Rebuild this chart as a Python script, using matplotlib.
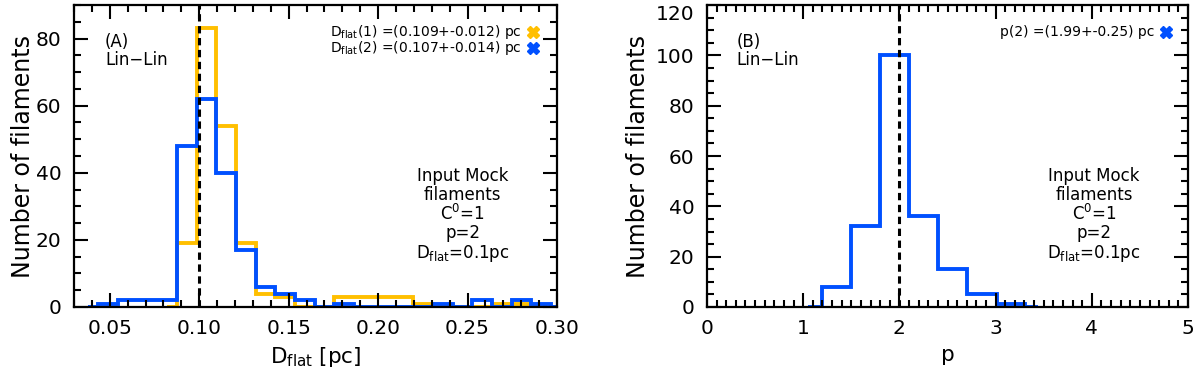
import matplotlib.pyplot as plt
from matplotlib.ticker import MultipleLocator

# Colours
yellow = "#FFBF00"
blue = "#0050FF"

# Panel A: D_flat histograms (bin edges in pc, counts)
dflat_edges_1 = [0.0821, 0.0876, 0.0986, 0.1096, 0.1206, 0.1316, 0.1426, 0.1536,
                 0.1646, 0.1756, 0.1866, 0.1976, 0.2086, 0.2196, 0.2306, 0.2416,
                 0.2526, 0.2636, 0.2746, 0.2856, 0.2943]
dflat_counts_1 = [0, 19, 83, 54, 19, 4, 3, 0, 0, 3, 3, 3, 3, 1, 0, 0, 0, 1, 1, 0]

dflat_edges_2 = [0.038, 0.0436, 0.0546, 0.0656, 0.0766, 0.0876, 0.0986, 0.1096,
                 0.1206, 0.1316, 0.1426, 0.1536, 0.1646, 0.1756, 0.1866, 0.1976,
                 0.2086, 0.2196, 0.2306, 0.2416, 0.2526, 0.2636, 0.2746, 0.2856,
                 0.2966, 0.2996]
dflat_counts_2 = [0, 1, 2, 2, 2, 48, 62, 40, 17, 6, 4, 2, 0, 1, 0, 0, 0, 0, 1,
                  0, 2, 0, 2, 1, 0]

# Panel B: p histogram
p_edges = [1.053, 1.192, 1.497, 1.798, 2.103, 2.398, 2.70, 3.011, 3.306, 3.44]
p_counts = [0, 8, 32, 100, 36, 15, 5, 1, 0]

dflat_input = 0.10
p_input = 2.0

xticks_a = [0.05, 0.10, 0.15, 0.20, 0.25, 0.30]
xticklabels_a = ["0.05", "0.10", "0.15", "0.20", "0.25", "0.30"]
yticks_b = [0, 20, 40, 60, 80, 100, 120]

legend_a = ["D$_{\\rm flat}$(1) =(0.109+-0.012) pc", "D$_{\\rm flat}$(2) =(0.107+-0.014) pc"]
legend_b = ["p(2) =(1.99+-0.25) pc"]
info_lines = ["Input Mock", "filaments", "C$^{\\rm 0}$=1", "p=2", "D$_{\\rm flat}$=0.1pc"]

plt.rcParams['font.family'] = 'DejaVu Sans'
plt.rcParams['mathtext.default'] = 'regular'

fig = plt.figure(figsize=(12, 3.79), dpi=100)
ax_a = fig.add_axes([74/1200, 72/379, 483/1200, 302/379])
ax_b = fig.add_axes([707/1200, 72/379, 481/1200, 302/379])


def style_axes(ax):
	for s in ax.spines.values():
		s.set_linewidth(1.6)
	ax.tick_params(which='both', direction='in', top=True, right=True, width=1.5,
	               labelsize=14.5, pad=9)
	ax.tick_params(which='major', length=10)
	ax.tick_params(which='minor', length=5)


def add_info(ax):
	ys = [0.434, 0.371, 0.308, 0.245, 0.178]
	for line, y in zip(info_lines, ys):
		ax.text(0.805, y, line, transform=ax.transAxes, ha='center', va='center',
		        fontsize=12)


# Panel A
ax_a.stairs(dflat_counts_1, dflat_edges_1, color=yellow, lw=2.8)
ax_a.stairs(dflat_counts_2, dflat_edges_2, color=blue, lw=2.8)
ax_a.axvline(dflat_input, color='black', ls=(0, (2.4, 1.5)), lw=2.2)
ax_a.set_xlim(0.03, 0.30)
ax_a.set_ylim(0, 90)
ax_a.set_xticks(xticks_a)
ax_a.set_xticklabels(xticklabels_a)
ax_a.xaxis.set_minor_locator(MultipleLocator(0.01))
ax_a.yaxis.set_major_locator(MultipleLocator(20))
ax_a.yaxis.set_minor_locator(MultipleLocator(5))
style_axes(ax_a)
ax_a.set_xlabel("D$_{\\rm flat}$ [pc]", fontsize=15.5)
ax_a.set_ylabel("Number of filaments", fontsize=17)
ax_a.xaxis.set_label_coords(0.5, -0.125)
ax_a.yaxis.set_label_coords(-0.081, 0.5)
ax_a.text(0.064, 0.877, "(A)", transform=ax_a.transAxes, va='center', fontsize=12)
ax_a.text(0.064, 0.818, "Lin\u2212Lin", transform=ax_a.transAxes, va='center', fontsize=12)
for txt, y, c in zip(legend_a, [0.91, 0.858], [yellow, blue]):
	ax_a.text(0.9275, y, txt, transform=ax_a.transAxes, ha='right', va='center', fontsize=10)
	ax_a.plot([0.95], [y], transform=ax_a.transAxes, marker='X', ms=8, color=c, clip_on=False)
add_info(ax_a)

# Panel B
ax_b.stairs(p_counts, p_edges, color=blue, lw=2.8)
ax_b.axvline(p_input, color='black', ls=(0, (2.4, 1.5)), lw=2.2)
ax_b.set_xlim(0, 5)
ax_b.set_ylim(0, 120)
ax_b.xaxis.set_major_locator(MultipleLocator(1))
ax_b.xaxis.set_minor_locator(MultipleLocator(0.1))
ax_b.set_yticks(yticks_b)
ax_b.yaxis.set_minor_locator(MultipleLocator(5))
style_axes(ax_b)
ax_b.set_xlabel("p", fontsize=15.5)
ax_b.set_ylabel("Number of filaments", fontsize=17)
ax_b.xaxis.set_label_coords(0.5, -0.125)
ax_b.yaxis.set_label_coords(-0.118, 0.5)
# top label sits below its tick so it stays inside the figure
for lab in ax_b.get_yticklabels():
	if lab.get_text() == "120":
		lab.set_va('top')
ax_b.text(0.062, 0.877, "(B)", transform=ax_b.transAxes, va='center', fontsize=12)
ax_b.text(0.062, 0.818, "Lin\u2212Lin", transform=ax_b.transAxes, va='center', fontsize=12)
for txt, y in zip(legend_b, [0.91]):
	ax_b.text(0.931, y, txt, transform=ax_b.transAxes, ha='right', va='center', fontsize=10)
	ax_b.plot([0.954], [y], transform=ax_b.transAxes, marker='X', ms=8, color=blue, clip_on=False)
add_info(ax_b)

fig.savefig("out.png", dpi=100)
